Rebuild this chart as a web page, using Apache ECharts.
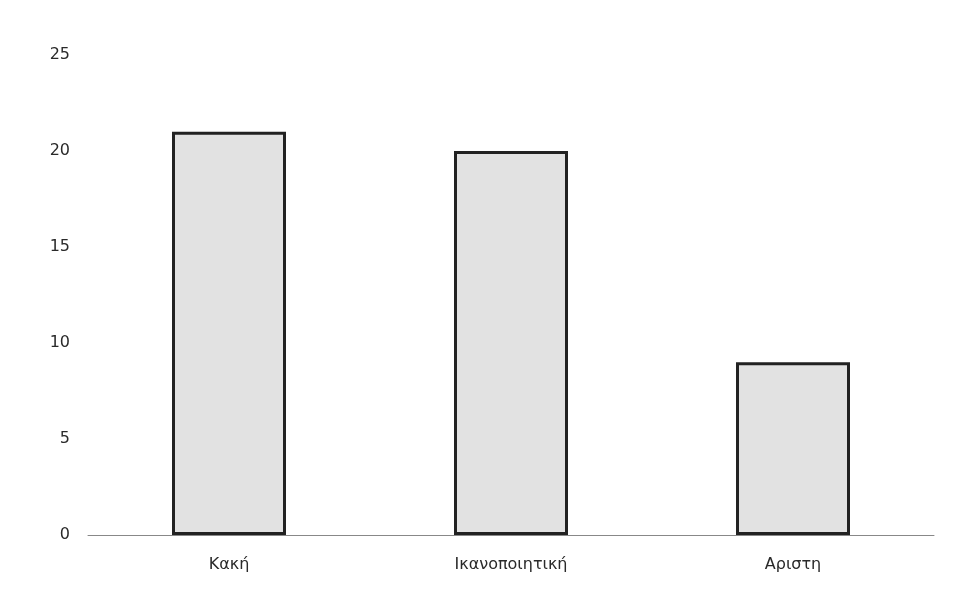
<!DOCTYPE html>
<html>
<head>
<meta charset="utf-8">
<script src="https://cdn.jsdelivr.net/npm/echarts@6/dist/echarts.min.js"></script>
<style>html,body{margin:0;padding:0;background:#fff;}#c{width:955px;height:592px;}</style>
</head>
<body>
<div id="c"></div>
<script>
const categories = ['Κακή', 'Ικανοποιητική', 'Αριστη'];
const values = [21, 20, 9];
const yTicks = [0, 5, 10, 15, 20, 25];

const chart = echarts.init(document.getElementById('c'), null, {renderer: 'canvas'});
chart.setOption({
  backgroundColor: '#ffffff',
  animation: false,
  grid: {left: 88, right: 21, top: 55, bottom: 57, containLabel: false},
  xAxis: {
    type: 'category',
    data: categories,
    axisLine: {show: true, lineStyle: {color: '#888', width: 1}},
    axisTick: {show: false},
    axisLabel: {margin: 22, fontFamily: 'DejaVu Sans, sans-serif', fontSize: 16, color: '#2a2a2a'}
  },
  yAxis: {
    type: 'value',
    min: yTicks[0],
    max: yTicks[yTicks.length - 1],
    interval: 5,
    axisLine: {show: false},
    axisTick: {show: false},
    splitLine: {show: false},
    axisLabel: {margin: 18, fontFamily: 'DejaVu Sans, sans-serif', fontSize: 16, color: '#2a2a2a'}
  },
  series: [{
    type: 'bar',
    data: values,
    barWidth: 114,
    itemStyle: {color: '#e2e2e2', borderColor: '#222', borderWidth: 3}
  }]
});
</script>
</body>
</html>
